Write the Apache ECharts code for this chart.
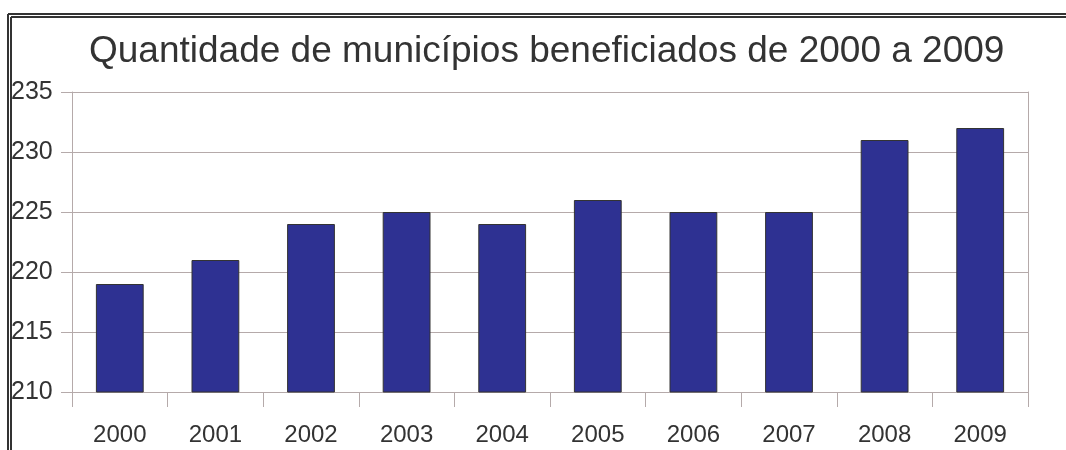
<!DOCTYPE html>
<html>
<head>
<meta charset="utf-8">
<script src="https://cdn.jsdelivr.net/npm/echarts@6/dist/echarts.min.js"></script>
<style>
  html, body { margin: 0; padding: 0; background: #fff; }
  #chart { width: 1066px; height: 450px; }
</style>
</head>
<body>
<div id="chart"></div>
<script>
// dados do gráfico
const anos = ["2000", "2001", "2002", "2003", "2004", "2005", "2006", "2007", "2008", "2009"];
const municipios = [219, 221, 224, 225, 224, 226, 225, 225, 231, 232];
const titulo = "Quantidade de municípios beneficiados de 2000 a 2009";

const gridColor = "#b5aaaa";
const textColor = "#333333";
const fonte = "'Liberation Sans', Arial, sans-serif";

const myChart = echarts.init(document.getElementById("chart"));

myChart.setOption({
  animation: false,
  backgroundColor: "#fff",
  title: {
    text: titulo,
    left: 84,
    top: 28,
    textStyle: { color: textColor, fontSize: 37, fontWeight: "normal", fontFamily: fonte },
  },
  grid: { left: 72, right: 38, top: 92, bottom: 58, containLabel: false },
  // moldura dupla (esquerda e topo)
  graphic: [
    { type: "line", shape: { x1: 8, y1: 14, x2: 1066, y2: 14 }, style: { stroke: "#333", lineWidth: 2 } },
    { type: "line", shape: { x1: 11, y1: 17, x2: 1066, y2: 17 }, style: { stroke: "#333", lineWidth: 2 } },
    { type: "line", shape: { x1: 8, y1: 14, x2: 8, y2: 450 }, style: { stroke: "#333", lineWidth: 2 } },
    { type: "line", shape: { x1: 11, y1: 17, x2: 11, y2: 450 }, style: { stroke: "#333", lineWidth: 2 } },
  ],
  xAxis: {
    type: "category",
    data: anos,
    boundaryGap: true,
    axisLine: { show: true, lineStyle: { color: gridColor, width: 1 } },
    axisTick: { show: true, length: 15, alignWithLabel: false, lineStyle: { color: gridColor } },
    axisLabel: { color: textColor, fontSize: 24, fontFamily: fonte, margin: 31 },
    splitLine: { show: false },
  },
  yAxis: [
    {
      type: "value",
      min: 210,
      max: 235,
      interval: 5,
      axisLine: { show: true, lineStyle: { color: gridColor, width: 1 } },
      axisTick: { show: true, length: 11, lineStyle: { color: gridColor } },
      axisLabel: { color: textColor, fontSize: 25, fontFamily: fonte, align: "left", margin: 61 },
      splitLine: { show: true, lineStyle: { color: gridColor, width: 1, type: "solid" } },
    },
    {
      type: "value",
      position: "right",
      min: 210,
      max: 235,
      interval: 5,
      axisLine: { show: true, lineStyle: { color: gridColor, width: 1 } },
      axisTick: { show: false },
      axisLabel: { show: false },
      splitLine: { show: false },
    },
  ],
  series: [
    {
      type: "bar",
      data: municipios,
      barWidth: "50%",
      itemStyle: { color: "#2e3192", borderColor: "#333333", borderWidth: 1 },
    },
  ],
});
</script>
</body>
</html>
